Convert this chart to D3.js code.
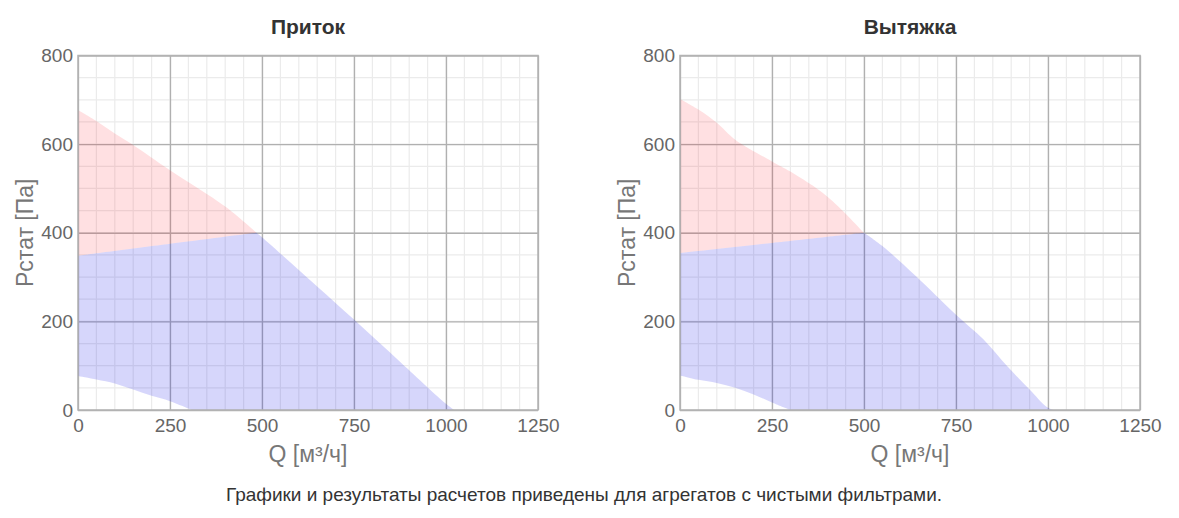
<!DOCTYPE html>
<html>
<head>
<meta charset="utf-8">
<script src="https://cdn.jsdelivr.net/npm/d3@7"></script>
<style>
  body { margin: 0; background: #fff; }
  text { font-family: "Liberation Sans", Arial, sans-serif; }
</style>
</head>
<body>
<svg width="1179" height="518"></svg>
<script>
// axis ticks
var xTicks = [0, 250, 500, 750, 1000, 1250]
var yTicks = [0, 200, 400, 600, 800]

// Приток
var supplyRedTop = [[0,677],[50,652],[100,624],[150,598],[250,541],[400,459],[485,400]]
var supplyBlueTop = [[0,348],[250,375],[485,400]]
var supplyBlueRight = [[485,400],[500,390],[600,316],[750,204],[880,105],[1000,14],[1022,0]]
var supplyBlueBottom = [[0,77],[50,69],[100,60],[150,46],[200,32],[250,20],[310,0]]

// Вытяжка
var exhaustRedTop = [[0,702],[50,678],[100,648],[150,610],[250,561],[300,538],[400,482],[500,400]]
var exhaustBlueTop = [[0,354],[250,377],[500,400]]
var exhaustBlueRight = [[500,400],[550,370],[640,303],[750,215],[825,159],[890,98],[950,46],[995,8],[1015,0]]
var exhaustBlueBottom = [[0,78],[50,68],[100,61],[150,50],[200,35],[250,17],[300,0]]

var svg = d3.select("svg")
var fontFam = "Liberation Sans, Arial, sans-serif"

function drawChart(left, title, redTop, blueTop, blueRight, blueBottom) {
    var w = 460, h = 354.5, top = 55.5
    var g = svg.append("g").attr("transform", "translate(" + left + "," + top + ")")
    var x = d3.scaleLinear().domain([0, 1250]).range([0, w])
    var y = d3.scaleLinear().domain([0, 800]).range([h, 0])

    // minor grid
    g.append("g").selectAll("line").data(d3.range(50, 1250, 50)).enter().append("line")
        .attr("x1", function(d) { return x(d) }).attr("x2", function(d) { return x(d) })
        .attr("y1", 0).attr("y2", h)
        .attr("stroke", "#ebebeb").attr("stroke-width", 1.2)
    g.append("g").selectAll("line").data(d3.range(50, 800, 50)).enter().append("line")
        .attr("y1", function(d) { return y(d) }).attr("y2", function(d) { return y(d) })
        .attr("x1", 0).attr("x2", w)
        .attr("stroke", "#ebebeb").attr("stroke-width", 1.2)

    // major grid
    g.append("g").call(d3.axisBottom(x).tickValues(xTicks).tickSize(h).tickFormat(""))
        .call(function(a) { a.select(".domain").remove() })
        .selectAll("line").attr("stroke", "#b0b0b0").attr("stroke-width", 1.3)
    g.append("g").call(d3.axisLeft(y).tickValues(yTicks).tickSize(-w).tickFormat(""))
        .call(function(a) { a.select(".domain").remove() })
        .selectAll("line").attr("stroke", "#b0b0b0").attr("stroke-width", 1.3)

    var smooth = d3.line().curve(d3.curveCatmullRom.alpha(0.5))
        .x(function(d) { return x(d[0]) }).y(function(d) { return y(d[1]) })
    // joins smooth pieces into one closed outline
    function outline(pieces) {
        var d = ""
        pieces.forEach(function(p, i) {
            var s = smooth(p)
            d += i == 0 ? s : "L" + s.slice(1)
        })
        return d + "Z"
    }

    // red zone: between the upper curve and the blue top line
    g.append("path").attr("d", outline([redTop, blueTop.slice().reverse()]))
        .attr("fill", "rgb(255,0,20)").attr("fill-opacity", 0.12)

    // blue zone
    g.append("path").attr("d", outline([blueTop, blueRight, blueBottom.slice().reverse()]))
        .attr("fill", "rgb(0,0,230)").attr("fill-opacity", 0.16)

    // frame
    g.append("rect").attr("width", w).attr("height", h)
        .attr("fill", "none").attr("stroke", "#b3b3b3").attr("stroke-width", 1.5)

    // tick labels
    var ya = g.append("g").call(d3.axisLeft(y).tickValues(yTicks).tickSize(0).tickPadding(5).tickFormat(d3.format("d")))
    ya.select(".domain").remove()
    ya.selectAll("text").attr("font-size", 19).attr("fill", "#666").attr("font-family", fontFam)
    var xa = g.append("g").attr("transform", "translate(0," + h + ")")
        .call(d3.axisBottom(x).tickValues(xTicks).tickSize(0).tickPadding(9).tickFormat(d3.format("d")))
    xa.select(".domain").remove()
    xa.selectAll("text").attr("font-size", 19).attr("fill", "#666").attr("font-family", fontFam)

    // titles
    g.append("text").attr("x", w / 2).attr("y", 27 - top).attr("dy", "0.35em")
        .attr("text-anchor", "middle").attr("font-size", 21).attr("font-weight", "bold")
        .attr("fill", "#333").text(title)
    g.append("text").attr("x", w / 2).attr("y", 454 - top).attr("dy", "0.35em")
        .attr("text-anchor", "middle").attr("font-size", 23).attr("fill", "#777")
        .text("Q [м³/ч]")
    g.append("text").attr("transform", "translate(" + (25 - 78) + "," + (h / 2) + ") rotate(-90)")
        .attr("dy", "0.35em")
        .attr("text-anchor", "middle").attr("font-size", 23).attr("fill", "#777")
        .text("Рстат [Па]")
}

drawChart(78, "Приток", supplyRedTop, supplyBlueTop, supplyBlueRight, supplyBlueBottom)
drawChart(680, "Вытяжка", exhaustRedTop, exhaustBlueTop, exhaustBlueRight, exhaustBlueBottom)

svg.append("text").attr("x", 584).attr("y", 501).attr("text-anchor", "middle")
    .attr("font-size", 19).attr("fill", "#333")
    .text("Графики и результаты расчетов приведены для агрегатов с чистыми фильтрами.")
</script>
</body>
</html>
